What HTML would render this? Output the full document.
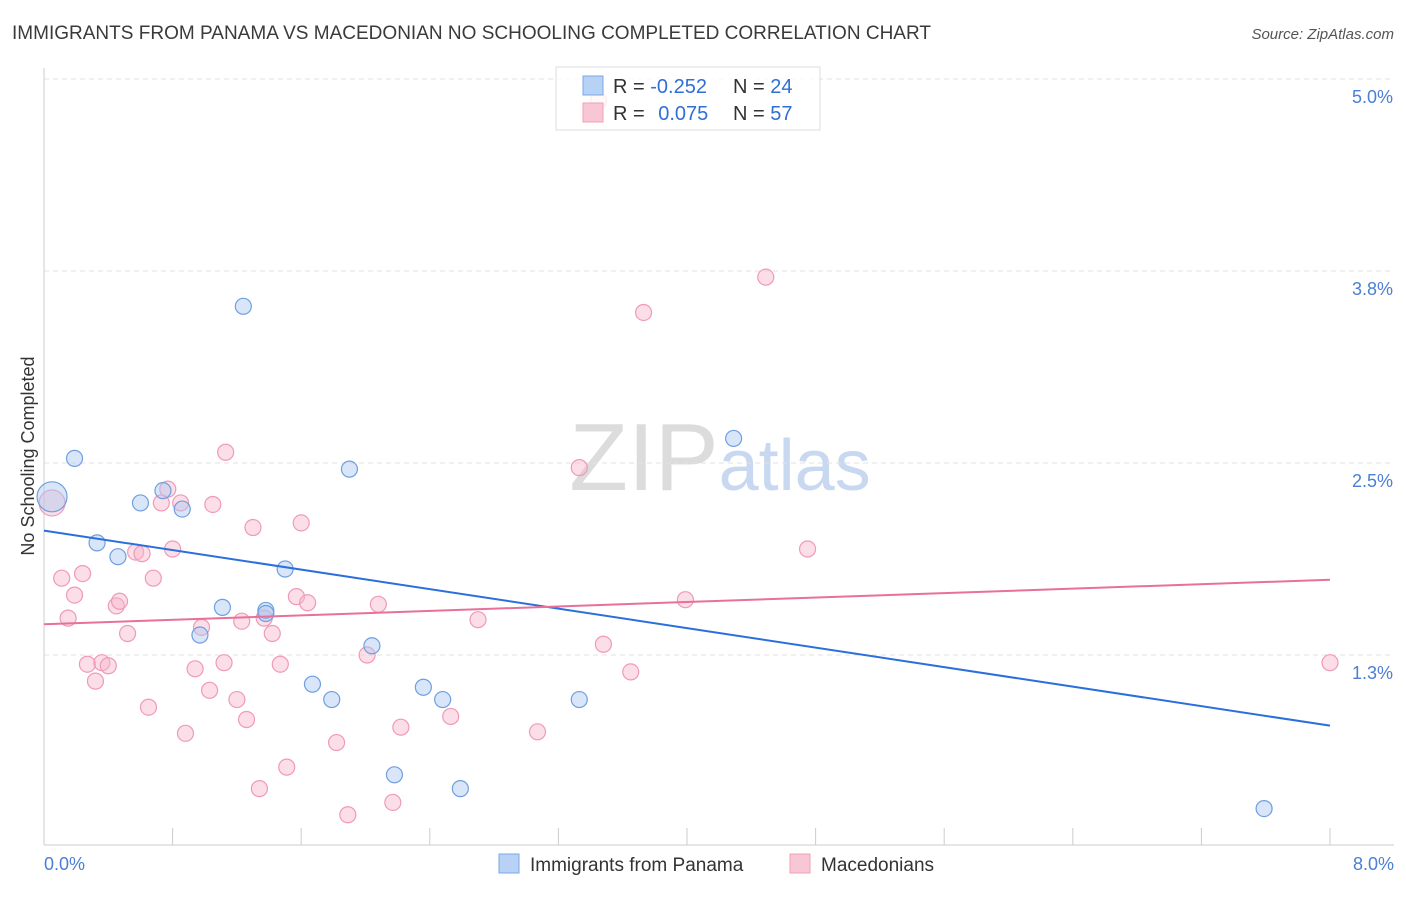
<!DOCTYPE html>
<html><head><meta charset="utf-8"><style>
body{margin:0;background:#fff;font-family:"Liberation Sans",sans-serif;}
svg text{font-family:"Liberation Sans",sans-serif;}
</style></head><body>
<svg id="chart" width="1406" height="892" xmlns="http://www.w3.org/2000/svg">
<text x="12" y="39" font-size="19" fill="#3a3a3a" textLength="919" lengthAdjust="spacingAndGlyphs">IMMIGRANTS FROM PANAMA VS MACEDONIAN NO SCHOOLING COMPLETED CORRELATION CHART</text>
<text x="1394" y="39" font-size="15" fill="#555" text-anchor="end" font-style="italic">Source: ZipAtlas.com</text>
<text x="720" y="490" font-size="96" text-anchor="middle" fill="#dcdcdc" font-family="Liberation Serif">ZIP<tspan fill="#c8d8f0" font-family="Liberation Sans" font-size="72">atlas</tspan></text>
<g id="grid"></g>
<line x1="44" y1="68" x2="44" y2="845" stroke="#ccc"/>
<line x1="44" y1="845" x2="1394" y2="845" stroke="#ccc"/>
<g id="ticks"></g>
<text transform="translate(34,456) rotate(-90)" font-size="18" fill="#333" text-anchor="middle">No Schooling Completed</text>
<text x="44" y="870" font-size="18" fill="#4a7fd4">0.0%</text>
<text x="1394" y="870" font-size="18" fill="#4a7fd4" text-anchor="end">8.0%</text>
<g id="pts"></g>
<g id="lines"></g>
<g>
<rect x="556" y="67" width="264" height="63" fill="#fff" fill-opacity="0.8" stroke="#ddd"/>
<rect x="583" y="76" width="20" height="19" fill="#b8d2f5" stroke="#7aaae8"/>
<rect x="583" y="103" width="20" height="19" fill="#f9c6d6" stroke="#f0a0b8"/>
<text x="613" y="93" font-size="20" fill="#333">R = <tspan fill="#2f6fd6">-0.252</tspan></text>
<text x="733" y="93" font-size="20" fill="#333">N = <tspan fill="#2f6fd6">24</tspan></text>
<text x="613" y="120" font-size="20" fill="#333">R = <tspan fill="#2f6fd6" dx="8">0.075</tspan></text>
<text x="733" y="120" font-size="20" fill="#333">N = <tspan fill="#2f6fd6">57</tspan></text>
</g>
<g>
<rect x="499" y="854" width="20" height="19" fill="#b8d2f5" stroke="#7aaae8"/>
<text x="530" y="871" font-size="19" fill="#333">Immigrants from Panama</text>
<rect x="790" y="854" width="20" height="19" fill="#f9c6d6" stroke="#f0a0b8"/>
<text x="821" y="871" font-size="19" fill="#333">Macedonians</text>
</g>
</svg>
<script>
const yTicks=[1.25,2.5,3.75,5.0];
const yTickLabels=["1.3%","2.5%","3.8%","5.0%"];
const xTicks=[0,0.8,1.6,2.4,3.2,4.0,4.8,5.6,6.4,7.2,8.0];
const blueX=[0.05,0.19,0.33,0.46,0.60,0.74,0.86,1.24,1.11,0.97,1.38,1.50,1.90,2.04,1.67,1.79,2.36,2.48,2.18,2.59,3.33,4.29,7.59,1.38];
const blueY=[2.28,2.53,1.98,1.89,2.24,2.32,2.20,3.52,1.56,1.38,1.54,1.81,2.46,1.31,1.06,0.96,1.04,0.96,0.47,0.38,0.96,2.66,0.25,1.52];
const pinkX=[0.05,0.11,0.15,0.19,0.24,0.27,0.32,0.36,0.40,0.45,0.47,0.52,0.57,0.61,0.65,0.68,0.73,0.77,0.80,0.85,0.88,0.94,0.98,1.03,1.05,1.12,1.13,1.20,1.23,1.26,1.30,1.34,1.37,1.42,1.47,1.51,1.57,1.60,1.64,1.82,1.89,2.01,2.08,2.17,2.22,2.53,2.70,3.07,3.33,3.48,3.65,3.73,3.99,4.49,4.75,8.0,3.45];
const pinkY=[2.24,1.75,1.49,1.64,1.78,1.19,1.08,1.20,1.18,1.57,1.60,1.39,1.92,1.91,0.91,1.75,2.24,2.33,1.94,2.24,0.74,1.16,1.43,1.02,2.23,1.20,2.57,0.96,1.47,0.83,2.08,0.38,1.49,1.39,1.19,0.52,1.63,2.11,1.59,0.68,0.21,1.25,1.58,0.29,0.78,0.85,1.48,0.75,2.47,1.32,1.14,3.48,1.61,3.71,1.94,1.20,4.86];
const blueLine=[2.06,0.79];
const pinkLine=[1.45,1.74];
const NS='http://www.w3.org/2000/svg';
const sx=v=>44+v*160.75, sy=v=>847-v*153.6;
function mk(tag,attrs,parent){const e=document.createElementNS(NS,tag);for(const k in attrs)e.setAttribute(k,attrs[k]);document.getElementById(parent).appendChild(e);return e;}
yTicks.forEach((t,i)=>{
 const l=mk('line',{x1:44,x2:1394,y1:sy(t),y2:sy(t),stroke:'#e2e2e2','stroke-dasharray':'5,4'},'grid');
 
 
 const tx=mk('text',{x:1393,y:sy(t)+24,'font-size':18,fill:'#4a7fd4','text-anchor':'end'},'grid');
 tx.textContent=yTickLabels[i];
 
 
});
xTicks.forEach(t=>{
 const l=mk('line',{x1:sx(t),x2:sx(t),y1:828,y2:845,stroke:'#ccc'},'ticks');
 
 
});
pinkX.forEach((x,i)=>{
 const c=mk('circle',{cx:sx(x),cy:sy(pinkY[i]),r:i==0?13:8,fill:'rgba(247,182,204,0.45)',stroke:'#f09ab6','stroke-width':1.2},'pts');
 
 
});
blueX.forEach((x,i)=>{
 const c=mk('circle',{cx:sx(x),cy:sy(blueY[i]),r:i==0?15:8,fill:'rgba(170,200,242,0.45)',stroke:'#6f9fe0','stroke-width':1.2},'pts');
 
 
});
const bl=mk('line',{x1:sx(0),y1:sy(blueLine[0]),x2:sx(8),y2:sy(blueLine[1]),stroke:'#2a6fdb','stroke-width':2},'lines');


const pl=mk('line',{x1:sx(0),y1:sy(pinkLine[0]),x2:sx(8),y2:sy(pinkLine[1]),stroke:'#e8709a','stroke-width':2},'lines');


</script>
</body></html>
